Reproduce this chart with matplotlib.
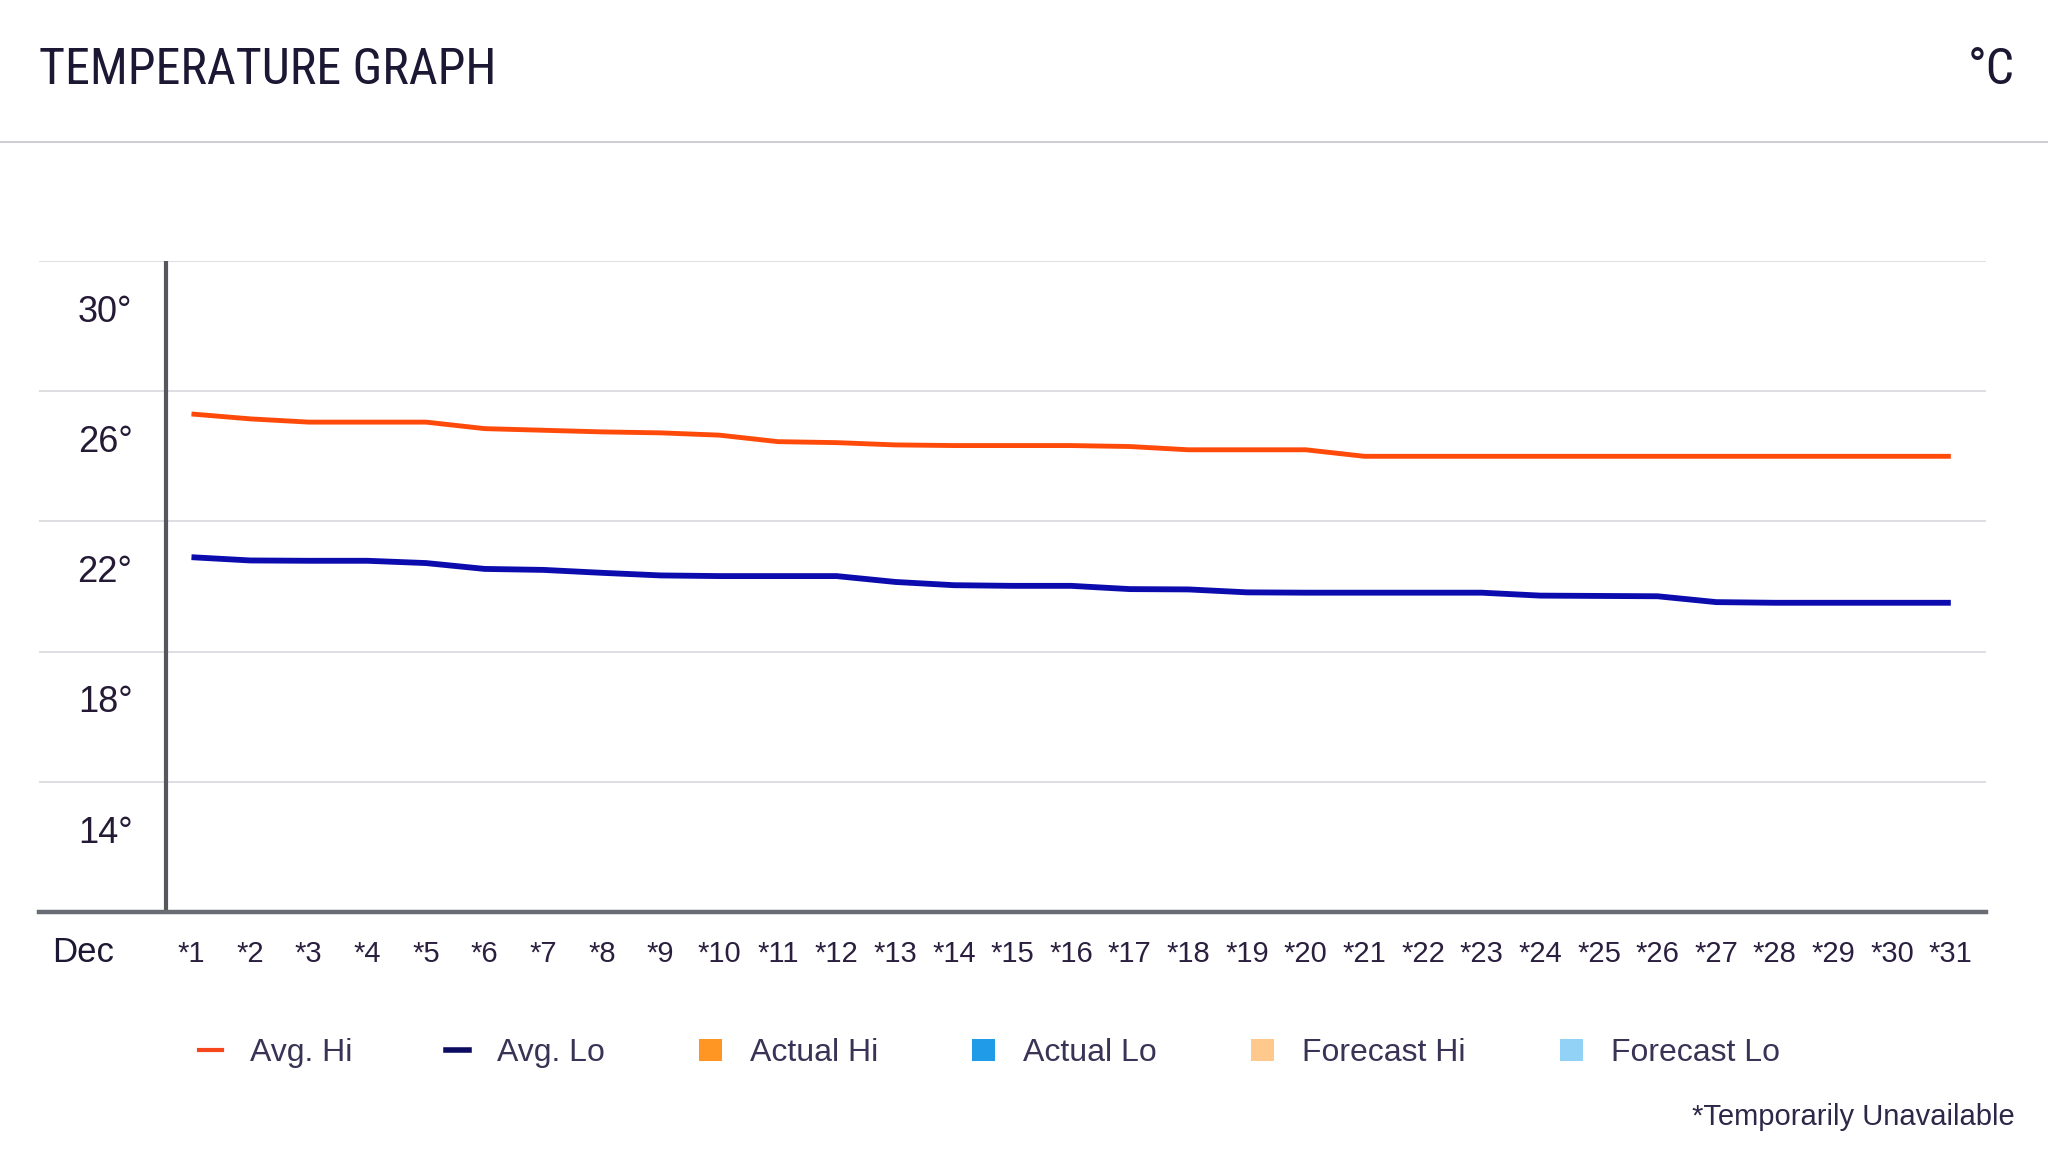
import matplotlib.pyplot as plt
from matplotlib import font_manager
from matplotlib.font_manager import FontProperties
from matplotlib.lines import Line2D
from matplotlib.patches import Patch

# data (degrees C, December)
days = list(range(1, 32))
avg_hi = [25.3, 25.15, 25.05, 25.05, 25.05, 24.85, 24.8, 24.75, 24.72, 24.65,
          24.45, 24.42, 24.35, 24.33, 24.33, 24.33, 24.3, 24.2, 24.2, 24.2,
          24.0, 24.0, 24.0, 24.0, 24.0, 24.0, 24.0, 24.0, 24.0, 24.0, 24.0]
avg_lo = [20.9, 20.8, 20.79, 20.79, 20.72, 20.54, 20.51, 20.42, 20.34, 20.32,
          20.32, 20.32, 20.14, 20.04, 20.02, 20.02, 19.92, 19.91, 19.82, 19.81,
          19.81, 19.81, 19.81, 19.72, 19.71, 19.7, 19.52, 19.5, 19.5, 19.5, 19.5]
y_ticks = [30, 26, 22, 18, 14]
day_labels = ['*%d' % d for d in days]
legend_labels = ['Avg. Hi', 'Avg. Lo', 'Actual Hi', 'Actual Lo', 'Forecast Hi', 'Forecast Lo']
legend_colors = ['#f5461c', '#0b0b62', '#ff9522', '#1f9be8', '#ffc98e', '#93d2f7']

W, H = 2048, 1152
plt.rcParams['font.family'] = ['Liberation Sans', 'DejaVu Sans']


def narrow_font(size):
    # the header uses a condensed face; pick one if it is installed
    fonts = font_manager.fontManager.ttflist
    names = {f.name for f in fonts}
    for name in ['Roboto Condensed', 'Liberation Sans Narrow', 'Open Sans Condensed']:
        if name in names:
            return FontProperties(family=name, size=size)
    for f in fonts:
        if f.name == 'DejaVu Sans' and f.stretch == 'condensed' and f.style == 'normal':
            return FontProperties(fname=f.fname, size=size * 0.97)
    return FontProperties(family='Roboto', size=size * 0.85)


title_font = narrow_font(36)

fig = plt.figure(figsize=(W / 100, H / 100), dpi=100)

# header
fig.text(39 / W, 1 - 84 / H, 'TEMPERATURE GRAPH', fontproperties=title_font,
         color='#1c1733', va='baseline')
fig.text(2015 / W, 1 - 84 / H, '°C', fontproperties=title_font,
         color='#1c1733', va='baseline', ha='right')
fig.add_artist(Line2D([0, 1], [1 - 142 / H] * 2, transform=fig.transFigure,
                      color='#c9c9ce', lw=1.3))

# plot area
ax = fig.add_axes([39 / W, 1 - 912 / H, 1947 / W, 651 / H])
ax.plot(days, avg_hi, color='#ff4a0a', lw=3.5, solid_capstyle='butt', zorder=3)
ax.plot(days, avg_lo, color='#0c0cae', lw=4.2, solid_capstyle='butt', zorder=3)
ax.set_xlim(-1.6, 31.6)
ax.set_ylim(10, 30)

for v in y_ticks:
    ax.axhline(v, color='#d9d9de', lw=1.2, zorder=0)
    ax.annotate('%d°' % v, xy=(0.048, v), xycoords=('axes fraction', 'data'),
                xytext=(0, -37), textcoords='offset points',
                ha='right', va='center', size=26, color='#241a35')
ax.axvline(0.57, color='#55575c', lw=3, zorder=2)

for side in ['top', 'left', 'right']:
    ax.spines[side].set_visible(False)
ax.spines['bottom'].set_color('#696c72')
ax.spines['bottom'].set_linewidth(3.2)

ax.set_yticks([])
ax.set_xticks(days)
ax.set_xticklabels(day_labels)
ax.tick_params(axis='x', length=0, pad=20, labelsize=21, labelcolor='#2b1f3f')

fig.text(52 / W, 1 - 952 / H, 'Dec', size=25, color='#1c1733', va='center')

# legend
handles = [Line2D([], [], color=legend_colors[0], lw=3),
           Line2D([], [], color=legend_colors[1], lw=4)]
handles += [Patch(facecolor=c, edgecolor='none') for c in legend_colors[2:]]
fig.legend(handles, legend_labels, loc='center', bbox_to_anchor=(0.483, 1 - 1053 / H),
           ncol=6, frameon=False, fontsize=23, labelcolor='#3a3356',
           handlelength=0.72, handleheight=0.7, handletextpad=0.87, columnspacing=2.95)

fig.text(2015 / W, 1 - 1117 / H, '*Temporarily Unavailable', size=21,
         color='#2d2748', ha='right', va='center')

fig.savefig('out.png', dpi=100)
